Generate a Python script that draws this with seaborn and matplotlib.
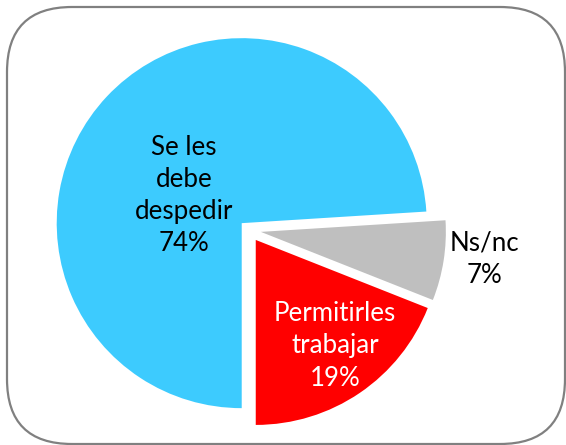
import seaborn as sns
import matplotlib.pyplot as plt
from matplotlib.patches import FancyBboxPatch

# opinion shares (%)
categories = ['Se les\ndebe\ndespedir', 'Permitirles\ntrabajar', 'Ns/nc']
shares = [74, 19, 7]
slice_colors = ['#3DCBFE', '#FF0000', '#BFBFBF']
text_colors = ['black', 'white', 'black']

sns.set_theme(style="white")
plt.rcParams['font.family'] = ['Lato', 'DejaVu Sans']

W, H = 566, 445
fig = plt.figure(figsize=(W / 100, H / 100), dpi=100)
ax = fig.add_axes([0, 0, 1, 1])

# data units are pixels, y going up
ax.pie(shares, colors=slice_colors, startangle=3.6, counterclock=True,
       radius=185, center=(249, 215), explode=[10, 12, 12],
       wedgeprops=dict(linewidth=0))
ax.set_xlim(0, W)
ax.set_ylim(0, H)
ax.set_aspect('equal')
ax.axis('off')

label_pos = [(184, 249.5), (335, 99), (484, 185.5)]
for cat, val, col, (x, y) in zip(categories, shares, text_colors, label_pos):
    ax.text(x, y, f"{cat}\n{val}%", ha='center', va='center', color=col,
            fontsize=18.6, linespacing=1.36)

border = FancyBboxPatch((7, 1), 558, 437, boxstyle="round,pad=0,rounding_size=65",
                        fill=False, edgecolor='#808080', linewidth=1.6, clip_on=False)
ax.add_patch(border)

fig.savefig('out.png', dpi=100)
